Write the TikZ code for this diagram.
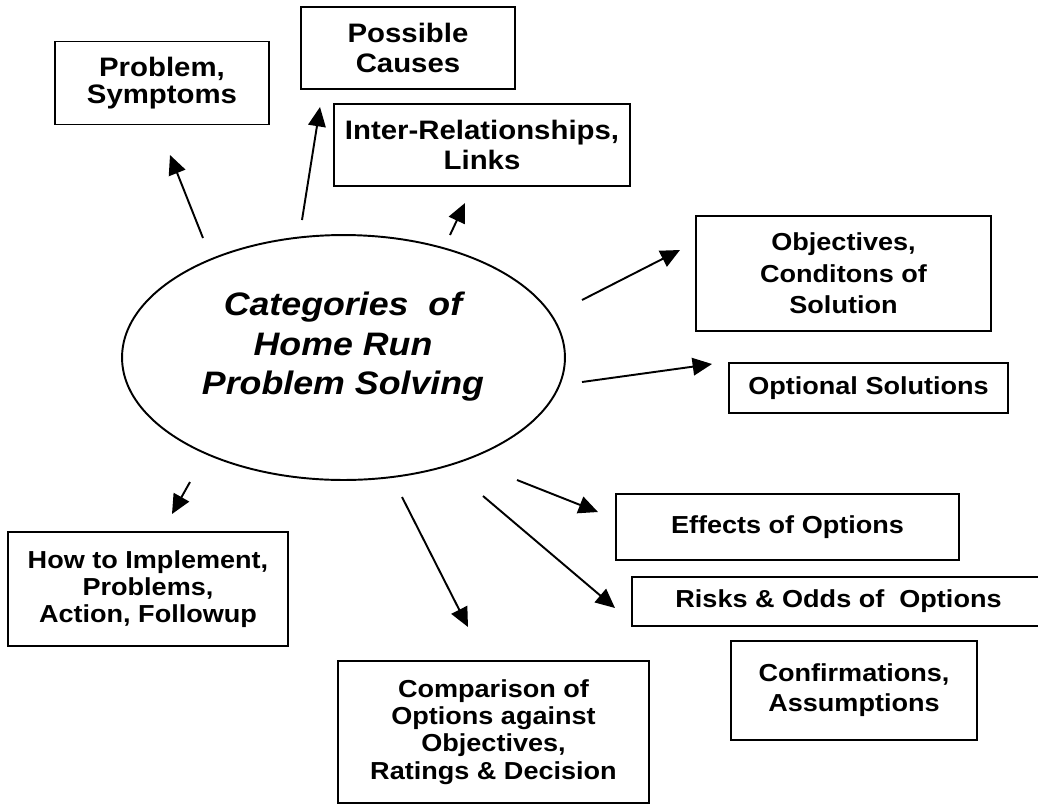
\documentclass[tikz,border=0pt]{standalone}
\usepackage{fontspec}
\setmainfont{Liberation Sans}
\newfontfamily\boxfont[FakeStretch=1.1]{Liberation Sans}
\usetikzlibrary{arrows.meta,shapes}

\begin{document}
\begin{tikzpicture}[x=0.02cm,y=-0.02cm,line width=1.1pt,>={Triangle[length=11pt,width=10pt]}]
	\tikzset{box/.style={draw, inner sep=0pt, align=center, font=\boxfont\bfseries\fontsize{14}{#1}\selectfont}, box/.default=16pt,
		bigbox/.style={box, font=\boxfont\bfseries\fontsize{15.2}{#1}\selectfont}, bigbox/.default=17pt,
		hub/.style={draw, ellipse, inner sep=0pt, minimum width=8.86cm, minimum height=4.9cm},
		hubtext/.style={align=center, font=\boxfont\bfseries\itshape\fontsize{18.5}{22.5}\selectfont}}

	\path[use as bounding box,clip] (0,0) rectangle (1038,806);

	% centre
	\node[hub] (hub) at (343.5,357.5) {};
	\node[hubtext] (hubtxt) at (343,347) {Categories~ of\\Home Run\\Problem Solving};

	% categories around it
	\node[bigbox=15.4pt, minimum width=4.28cm, minimum height=1.66cm] (sym) at (162,83) {Problem,\\Symptoms};
	\node[bigbox=17.5pt, minimum width=4.28cm, minimum height=1.64cm] (cause) at (408,48) {Possible\\Causes};
	\node[bigbox, minimum width=5.92cm, minimum height=1.64cm] (links) at (482,145) {Inter-Relationships,\\Links};
	\node[box=18pt, minimum width=5.90cm, minimum height=2.30cm] (obj) at (843.5,273.5) {Objectives,\\Conditons of\\Solution};
	\node[box, minimum width=5.58cm, minimum height=1.00cm] (opt) at (868.5,388) {Optional Solutions};
	\node[box, minimum width=6.86cm, minimum height=1.32cm] (eff) at (787.5,527) {Effects of Options};
	\node[box, minimum width=8.26cm, minimum height=0.98cm] (risk) at (838.5,601.5) {Risks \& Odds of~ Options};
	\node[box=17pt, minimum width=4.92cm, minimum height=1.98cm] (conf) at (854,690.5) {Confirmations,\\Assumptions};
	\node[box=15.5pt, minimum width=5.60cm, minimum height=2.28cm] (impl) at (148,589) {How to Implement,\\Problems,\\Action, Followup};
	\node[box=15.5pt, minimum width=6.22cm, minimum height=2.84cm] (comp) at (493.5,732) {Comparison of\\Options against\\Objectives,\\Ratings \& Decision};

	% arrows out of the ellipse
	\foreach \nm/\ax/\ay/\bx/\by in {sym/203/238/170/155, cause/302/220/320/107, links/450/235/465/203,
		obj/582/300/680/250, opt/582/382/712/364, eff/517/480/598/512,
		risk/483/496/615/608, comp/402/497/468/627, impl/190/482/172/514}{
		\coordinate (\nm-tail) at (\ax,\ay);
		\coordinate (\nm-tip) at (\bx,\by);
		\draw[->] (\nm-tail) -- (\nm-tip);
	}

\end{tikzpicture}
\end{document}
